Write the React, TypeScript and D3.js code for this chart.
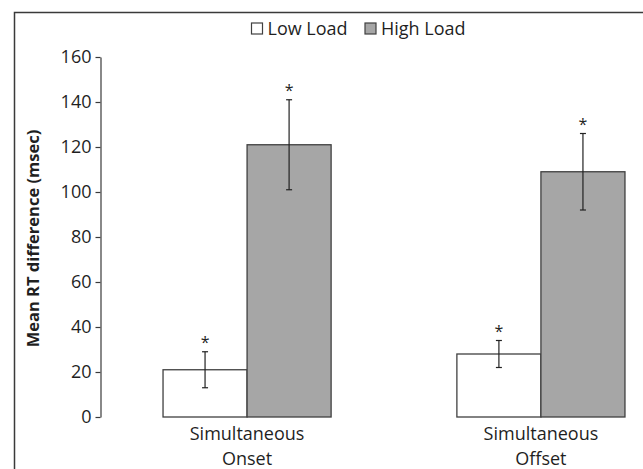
import React, { useEffect, useRef } from "react";
import * as d3 from "d3";

// chart values
const categories = ["Simultaneous Onset", "Simultaneous Offset"];
const series = ["Low Load", "High Load"];
const lowLoad = [21, 28];
const highLoad = [121, 109];
const lowLoadErr = [8, 6];
const highLoadErr = [20, 17];
const yTicks = [0, 20, 40, 60, 80, 100, 120, 140, 160];

const seriesFill = ["#ffffff", "#a6a6a6"];
const FONT = "'Open Sans', sans-serif";
const INK = "#1f1f1f";

export default function App() {
  const svgRef = useRef<SVGSVGElement>(null);

  useEffect(() => {
    document.body.style.margin = "0";
    const svg = d3.select(svgRef.current);
    svg.selectAll("*").remove();

    const width = 643;
    const height = 469;

    // outer frame (cut off at the right and bottom)
    svg
      .append("path")
      .attr("d", `M14.5,${height} V12.5 H${width}`)
      .attr("fill", "none")
      .attr("stroke", "#3a3a3a")
      .attr("stroke-width", 1.5);

    const y = d3.scaleLinear().domain([0, 160]).range([417, 57]);
    const x = d3
      .scaleBand()
      .domain(categories)
      .range([100, 688])
      .paddingInner(0.428)
      .paddingOuter(0.2145);
    const xs = d3.scaleBand().domain(series).range([0, x.bandwidth()]);

    const values = series.map((s, i) =>
      categories.map((c, j) => ({
        cat: c,
        series: s,
        value: i === 0 ? lowLoad[j] : highLoad[j],
        err: i === 0 ? lowLoadErr[j] : highLoadErr[j],
        fill: seriesFill[i],
      }))
    ).flat();

    // y axis
    const yAxis = svg
      .append("g")
      .attr("transform", "translate(100.5,0)")
      .call(
        d3.axisLeft(y).tickValues(yTicks).tickSize(5).tickSizeOuter(0).tickPadding(4)
      );
    yAxis.select(".domain").attr("stroke", "#3a3a3a").attr("stroke-width", 1.2);
    yAxis.selectAll(".tick line").attr("stroke", "#3a3a3a").attr("stroke-width", 1.2);
    yAxis
      .selectAll(".tick text")
      .attr("font-family", FONT)
      .attr("font-size", 18)
      .attr("fill", INK);

    // y label
    svg
      .append("text")
      .attr("transform", "translate(39,238.5) rotate(-90)")
      .attr("text-anchor", "middle")
      .attr("font-family", FONT)
      .attr("font-weight", "bold")
      .attr("font-size", 16.5)
      .attr("fill", INK)
      .text("Mean RT difference (msec)");

    // bars
    const bars = svg
      .selectAll(".bar")
      .data(values)
      .enter()
      .append("g")
      .attr("transform", (d) => `translate(${x(d.cat)! + xs(d.series)!},0)`);

    bars
      .append("rect")
      .attr("x", 0)
      .attr("y", (d) => y(d.value))
      .attr("width", xs.bandwidth())
      .attr("height", (d) => y(0) - y(d.value))
      .attr("fill", (d) => d.fill)
      .attr("stroke", "#404040")
      .attr("stroke-width", 1.3);

    const cx = xs.bandwidth() / 2;

    // error bars
    bars
      .append("line")
      .attr("x1", cx)
      .attr("x2", cx)
      .attr("y1", (d) => y(d.value + d.err))
      .attr("y2", (d) => y(d.value - d.err))
      .attr("stroke", "#222")
      .attr("stroke-width", 1.2);
    bars
      .append("line")
      .attr("x1", cx - 3)
      .attr("x2", cx + 3)
      .attr("y1", (d) => y(d.value + d.err))
      .attr("y2", (d) => y(d.value + d.err))
      .attr("stroke", "#222")
      .attr("stroke-width", 1.2);
    bars
      .append("line")
      .attr("x1", cx - 3)
      .attr("x2", cx + 3)
      .attr("y1", (d) => y(d.value - d.err))
      .attr("y2", (d) => y(d.value - d.err))
      .attr("stroke", "#222")
      .attr("stroke-width", 1.2);

    // significance markers
    bars
      .append("text")
      .attr("x", cx)
      .attr("y", (d) => y(d.value + d.err) - 4)
      .attr("text-anchor", "middle")
      .attr("font-family", FONT)
      .attr("font-size", 16)
      .attr("fill", INK)
      .text("*");

    // category labels
    const catLabels = svg
      .selectAll(".cat")
      .data(categories)
      .enter()
      .append("text")
      .attr("text-anchor", "middle")
      .attr("font-family", FONT)
      .attr("font-size", 18)
      .attr("fill", INK);
    catLabels
      .selectAll("tspan")
      .data((d) => d.split(" ").map((t) => ({ t, c: d })))
      .enter()
      .append("tspan")
      .attr("x", (d) => x(d.c)! + x.bandwidth() / 2)
      .attr("y", (_, i) => 440 + i * 25)
      .text((d) => d.t);

    // legend
    const legendX = [251.5, 365];
    const legend = svg
      .selectAll(".legend")
      .data(series)
      .enter()
      .append("g")
      .attr("transform", (_, i) => `translate(${legendX[i]},23)`);
    legend
      .append("rect")
      .attr("width", 11)
      .attr("height", 11)
      .attr("fill", (_, i) => seriesFill[i])
      .attr("stroke", "#404040")
      .attr("stroke-width", 1.2);
    legend
      .append("text")
      .attr("x", 16)
      .attr("y", 11.5)
      .attr("font-family", FONT)
      .attr("font-size", 18)
      .attr("fill", INK)
      .text((d) => d);
  }, []);

  return <svg ref={svgRef} width={643} height={469} style={{ display: "block" }} />;
}
